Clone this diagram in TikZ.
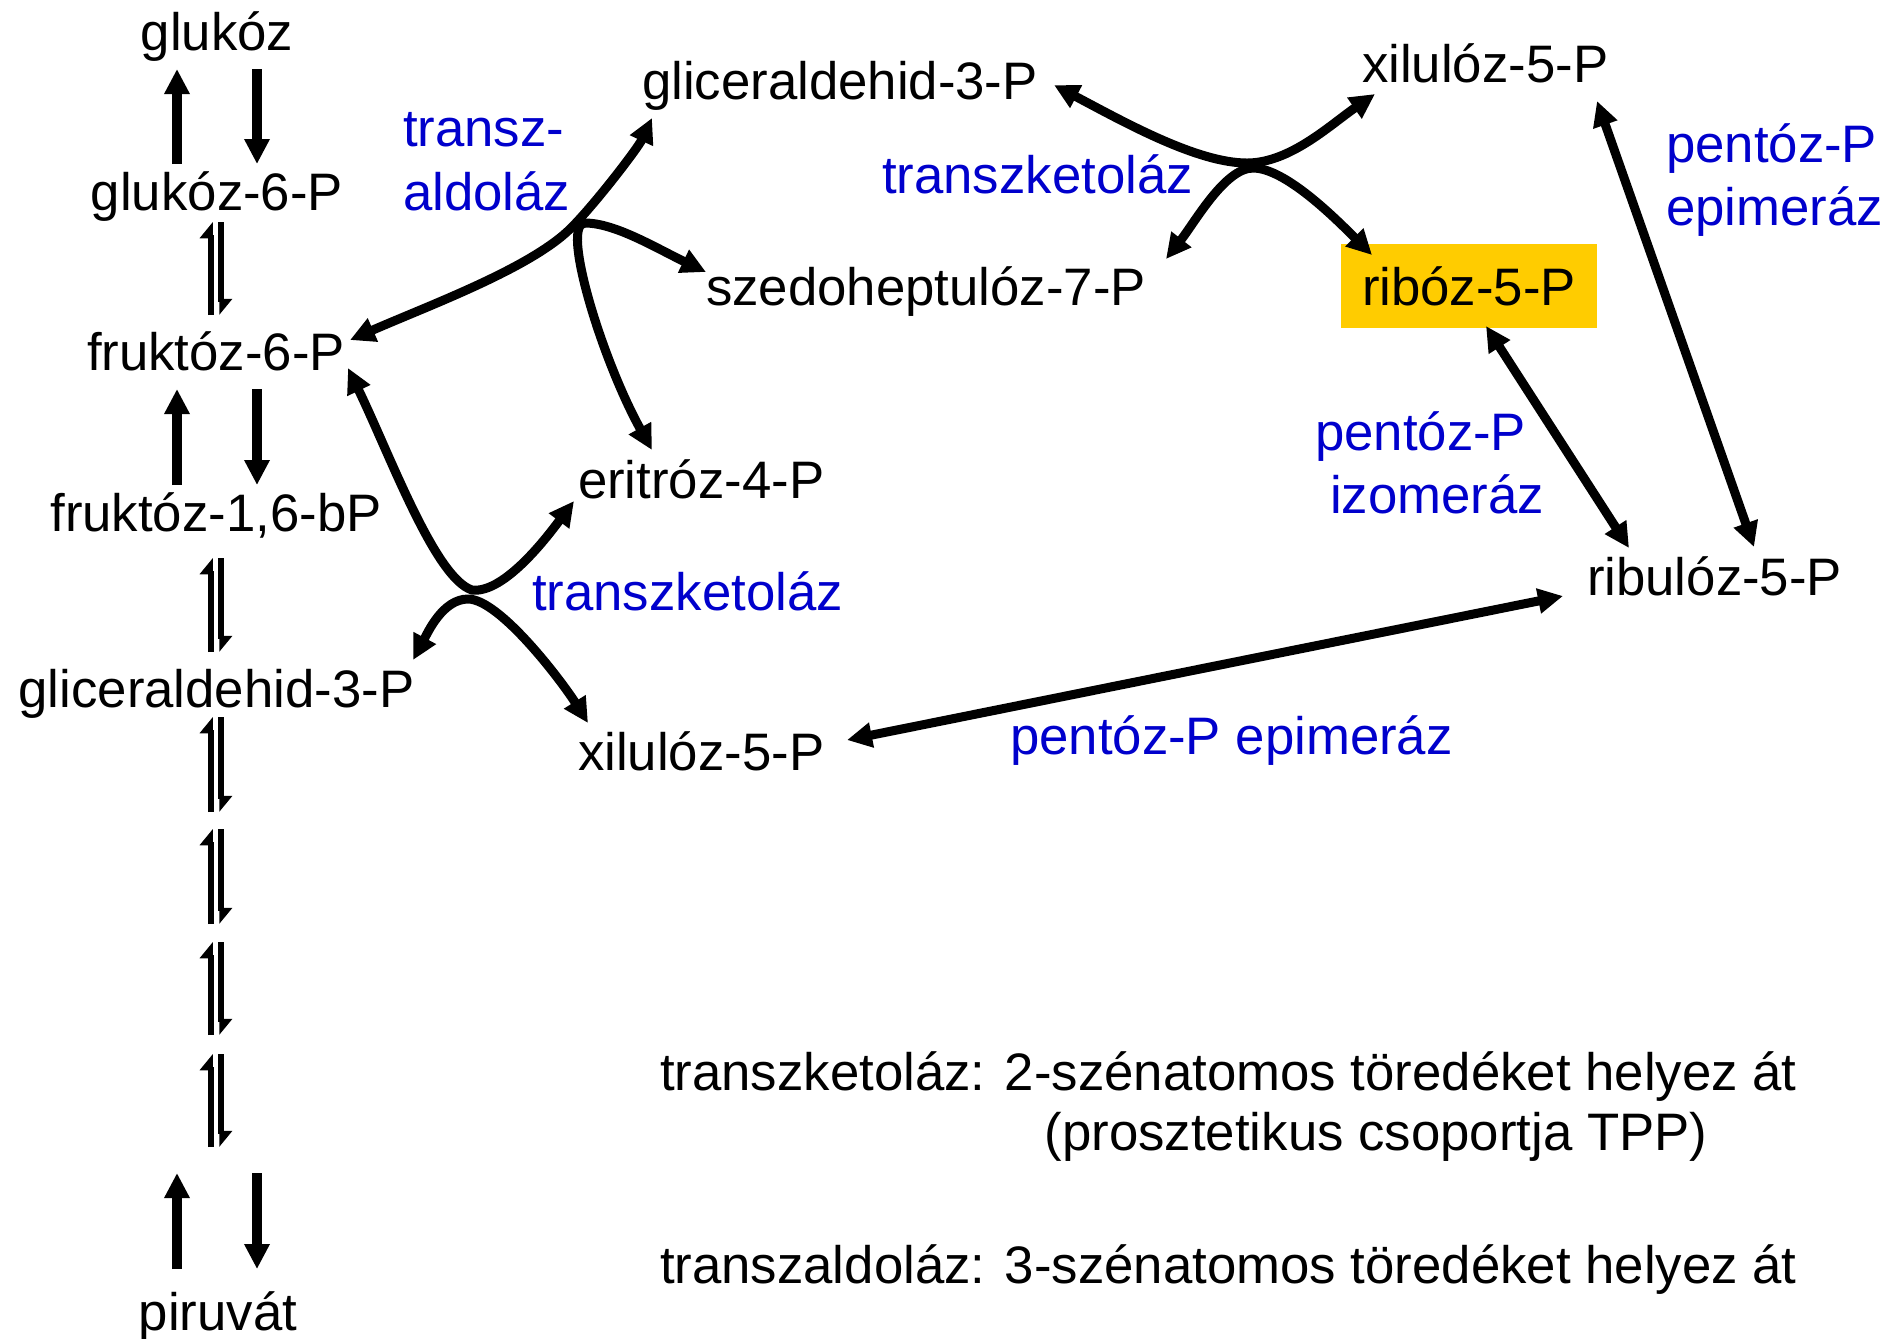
\documentclass[tikz,border=0pt]{standalone}
\usepackage{fontspec}
\setmainfont{Liberation Sans}
\usetikzlibrary{arrows.meta}
\definecolor{enzblue}{HTML}{0000CC}
\definecolor{boxgold}{HTML}{FFCC00}

\begin{document}
\begin{tikzpicture}[x=0.01cm, y=-0.01cm,
  every node/.style={inner sep=0pt, outer sep=0pt, font=\fontsize{15pt}{18pt}\selectfont},
  met/.style={anchor=base},
  metl/.style={anchor=base west},
  enz/.style={anchor=base west, text=enzblue},
  bigtip/.tip={Triangle[length=0.25cm, width=0.24cm]},
  onearrow/.style={line width=0.095cm, -bigtip},
  twoarrow/.style={line width=0.09cm, bigtip-bigtip},
  harp/.style={line width=0.055cm, -{Triangle[left, length=0.14cm, width=0.22cm]}},
]
\useasboundingbox (0,0) rectangle (1895,1338);

% glycolysis column
\node[met] (glc)  at (217,50)   {glukóz};
\node[met] (g6p)  at (217,210)  {glukóz-6-P};
\node[met] (f6p)  at (216,370)  {fruktóz-6-P};
\node[met] (fbp)  at (216,531)  {fruktóz-1,6-bP};
\node[met] (gapl) at (216.5,707) {gliceraldehid-3-P};
\node[met] (pyr)  at (218,1330) {piruvát};

% pentose phosphate metabolites
\node[metl] (gapt) at (642,99)   {gliceraldehid-3-P};
\node[metl] (s7p)  at (706,305)  {szedoheptulóz-7-P};
\node[metl] (e4p)  at (578,498)  {eritróz-4-P};
\node[metl] (xubot) at (578,770) {xilulóz-5-P};
\node[metl] (xutop) at (1362,82) {xilulóz-5-P};
\node[fill=boxgold, minimum width=2.56cm, minimum height=0.84cm] (r5p) at (1469,286) {ribóz-5-P};
\node[metl] (ru5p) at (1587,595) {ribulóz-5-P};

% enzymes
\node[enz] (ta1) at (403,146)  {transz-};
\node[enz] (ta2) at (403,210)  {aldoláz};
\node[enz] (tk1) at (882,193)  {transzketoláz};
\node[enz] (tk2) at (532,610)  {transzketoláz};
\node[enz] (epa) at (1666,162) {pentóz-P};
\node[enz] (epb) at (1666,225) {epimeráz};
\node[enz] (isa) at (1315,450) {pentóz-P};
\node[enz] (isb) at (1330,513) {izomeráz};
\node[enz] (ep2) at (1010,754) {pentóz-P epimeráz};

% notes
\node[metl] (note1) at (660,1090) {transzketoláz: 2-szénatomos töredéket helyez át};
\node[met]  (note2) at (1376,1150) {(prosztetikus csoportja TPP)};
\node[metl] (note3) at (660,1283) {transzaldoláz: 3-szénatomos töredéket helyez át};

% irreversible steps: pairs of thick arrows
\foreach \top/\bot [count=\i] in {69/164, 389/485, 1173/1269} {
  \coordinate (upS\i) at (177,\bot);
  \coordinate (upE\i) at (177,\top);
  \coordinate (dnS\i) at (257,\top);
  \coordinate (dnE\i) at (257,\bot);
  \draw[onearrow] (upS\i) -- (upE\i);
  \draw[onearrow] (dnS\i) -- (dnE\i);
}

% reversible steps: harpoon pairs
\foreach \top/\bot [count=\i] in {222/315, 558/652, 717/812, 829/924, 942/1035, 1054/1147} {
  \coordinate (hlS\i) at (211,\bot);
  \coordinate (hlE\i) at (211,\top);
  \coordinate (hrS\i) at (221,\top);
  \coordinate (hrE\i) at (221,\bot);
  \draw[harp] (hlS\i) -- (hlE\i);
  \draw[harp] (hrS\i) -- (hrE\i);
}

% transaldolase crossing
\coordinate (f6pA) at (350,340);
\coordinate (crA)  at (571,228);
\coordinate (gapA) at (652,118);
\draw[twoarrow] (f6pA) .. controls (430,305) and (531,268) .. (crA)
                       .. controls (595,204) and (638,148) .. (gapA);
\coordinate (s7pB) at (706,272);
\coordinate (crB)  at (585,223);
\coordinate (e4pB) at (652,450);
\draw[twoarrow] (s7pB) .. controls (656,248) and (615,223) .. (crB)
                       .. controls (560,223) and (602,360) .. (e4pB);

% lower transketolase crossing
\coordinate (f6pC) at (348,368);
\coordinate (crC)  at (472,590);
\coordinate (e4pC) at (574,501);
\draw[twoarrow] (f6pC) .. controls (390,455) and (435,578) .. (crC)
                       .. controls (505,594) and (550,533) .. (e4pC);
\coordinate (gapD) at (413,660);
\coordinate (crD)  at (468,599);
\coordinate (xuD)  at (588,723);
\draw[twoarrow] (gapD) .. controls (428,632) and (443,599) .. (crD)
                       .. controls (500,599) and (563,683) .. (xuD);

% upper transketolase crossing
\coordinate (gapE) at (1054,85);
\coordinate (crE)  at (1247,163);
\coordinate (xuE)  at (1375,94);
\draw[twoarrow] (gapE) .. controls (1124,122) and (1197,163) .. (crE)
                       .. controls (1290,163) and (1330,125) .. (xuE);
\coordinate (s7pF) at (1166,259);
\coordinate (crF)  at (1253,168);
\coordinate (r5pF) at (1372,255);
\draw[twoarrow] (s7pF) .. controls (1195,222) and (1225,168) .. (crF)
                       .. controls (1285,168) and (1335,218) .. (r5pF);

% isomerase and epimerase steps
\coordinate (r5pI)  at (1486,326);
\coordinate (ru5pI) at (1629,548);
\draw[twoarrow] (r5pI) -- (ru5pI);
\coordinate (xuTopP) at (1597,101);
\coordinate (ru5pP)  at (1754,547);
\draw[twoarrow] (xuTopP) -- (ru5pP);
\coordinate (xuBotP) at (847,740);
\coordinate (ru5pQ)  at (1563,596);
\draw[twoarrow] (xuBotP) -- (ru5pQ);
\end{tikzpicture}
\end{document}
